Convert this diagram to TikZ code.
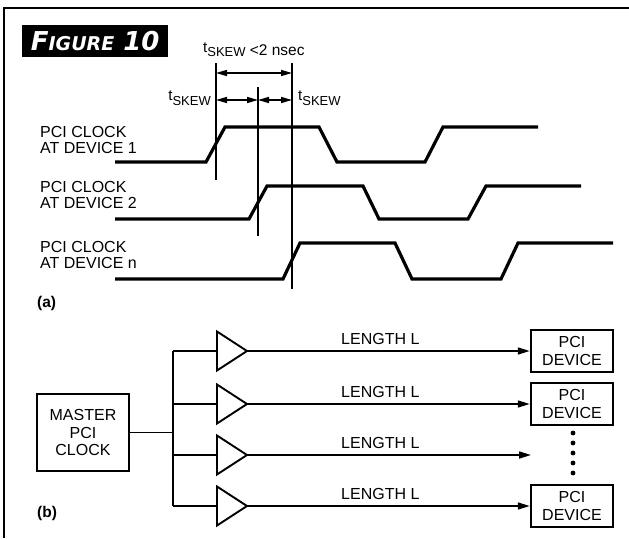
\documentclass[tikz,border=0pt]{standalone}
\usepackage{fontspec}
\setmainfont{Liberation Sans}
\newfontfamily\figfont{DejaVu Sans}
\usetikzlibrary{arrows.meta}
\newcommand\tsk{t\raisebox{-5pt}{\fontsize{13}{13}\selectfont SKEW}}
\begin{document}
\begin{tikzpicture}[x=1pt,y=-1pt,
  lbl/.style={font=\fontsize{16}{16}\selectfont, align=left, inner sep=0pt, anchor=north west},
  wave/.style={line width=3.2pt, line join=miter},
  dimline/.style={line width=1.5pt},
  dimarr/.style={line width=1.5pt, {Triangle[length=11pt,width=6pt]}-{Triangle[length=11pt,width=6pt]}},
  box/.style={draw, line width=2.5pt, inner sep=0pt, align=center, font=\fontsize{16}{17.5}\selectfont},
  wire/.style={line width=1.6pt},
  sig/.style={wire, -{Triangle[length=12pt,width=7pt]}},
  buf/.style={line width=1.9pt, line join=miter},
  len/.style={font=\fontsize{16}{16}\selectfont, inner sep=0pt, anchor=base west},
  skew/.style={font=\fontsize{15}{15}\selectfont, inner sep=0pt},
  part/.style={font=\bfseries\fontsize{15.5}{15.5}\selectfont, inner sep=0pt, anchor=base west},
  dot/.style={circle, fill=black, inner sep=0pt, minimum size=4.8pt}]
\useasboundingbox (0,0) rectangle (629,538);
\fill[white] (0,0) rectangle (629,538);
% frame
\draw[line width=1.4pt] (4,538) -- (4,8) -- (629,8);
% title
\node[fill=black, text=white, minimum width=146pt, minimum height=32pt, inner sep=0pt, anchor=north west] (fig) at (22,25)
  {\figfont\bfseries\itshape\fontsize{26}{26}\selectfont F\fontsize{19}{19}\selectfont IGURE\fontsize{26}{26}\selectfont\ 10};
% (a) timing
\coordinate (v1t) at (216,63);  \coordinate (v1b) at (216,180);
\coordinate (v2t) at (258,87);  \coordinate (v2b) at (258,236);
\coordinate (v3t) at (292,63);  \coordinate (v3b) at (292,289);
\draw[dimline] (v1t) -- (v1b);
\draw[dimline] (v2t) -- (v2b);
\draw[dimline] (v3t) -- (v3b);
\coordinate (a1) at (216,73); \coordinate (a3) at (292,73);
\coordinate (b1) at (216,100); \coordinate (b2) at (258,100); \coordinate (b3) at (292,100);
\draw[dimarr] (a1) -- (a3);
\draw[dimarr] (b1) -- (b2);
\draw[dimarr] (b2) -- (b3);
\node[skew, anchor=base west] (ttop) at (203,52) {\tsk\ \raisebox{-3pt}{\fontsize{15.5}{15.5}\selectfont <2 nsec}};
\node[skew, anchor=base east] (tleft) at (211,100) {\tsk};
\node[skew, anchor=base west] (tright) at (298,100) {\tsk};
\node[lbl] (l1) at (40,126) {PCI CLOCK\\AT DEVICE 1};
\node[lbl] (l2) at (40,181.5) {PCI CLOCK\\AT DEVICE 2};
\node[lbl] (l3) at (40,241.5) {PCI CLOCK\\AT DEVICE n};
\draw[wave] (115,162) -- (206,162) -- (225,127) -- (319,127) -- (337,162) -- (425,162) -- (443,127) -- (538,127);
\draw[wave] (115,219) -- (249,219) -- (267,186) -- (363,186) -- (379,219) -- (468,219) -- (486,186) -- (581,186);
\draw[wave] (115,279) -- (283,279) -- (300,243) -- (395,243) -- (412,279) -- (501,279) -- (518,243) -- (613,243);
\node[part] (pa) at (37,307) {(a)};
% (b) distribution
\node[part] (pb) at (37,517) {(b)};
\node[box, minimum width=92pt, minimum height=77pt] (master) at (83,432.5) {MASTER\\PCI\\CLOCK};
\coordinate (bus) at (173,432.5);
\draw[wire] (master.east) -- (bus);
\foreach \i/\y in {1/351,2/404,3/455,4/506}{
  \coordinate (bj\i) at (173,\y);
  \coordinate (in\i) at (217,\y);
  \coordinate (out\i) at (247,\y);
  \draw[buf] (217,\y-19.5) -- (out\i) -- (217,\y+19.5) -- cycle;
  \draw[wire] (bj\i) -- (in\i);
  \node[len] (L\i) at (341,\y-7) {LENGTH L};
}
\draw[wire] (bj1) -- (bj4);
\node[box, minimum width=82pt, minimum height=42pt] (d1) at (572,351) {PCI\\DEVICE};
\node[box, minimum width=82pt, minimum height=42pt] (d2) at (572,404) {PCI\\DEVICE};
\node[box, minimum width=82pt, minimum height=42pt] (d4) at (572,506) {PCI\\DEVICE};
\coordinate (e3) at (531,455);
\draw[sig] (out1) -- (d1.west);
\draw[sig] (out2) -- (d2.west);
\draw[sig] (out3) -- (e3);
\draw[sig] (out4) -- (d4.west);
\foreach \k in {0,...,4}{ \node[dot] (dot\k) at (573,433+10*\k) {}; }
\end{tikzpicture}
\end{document}
